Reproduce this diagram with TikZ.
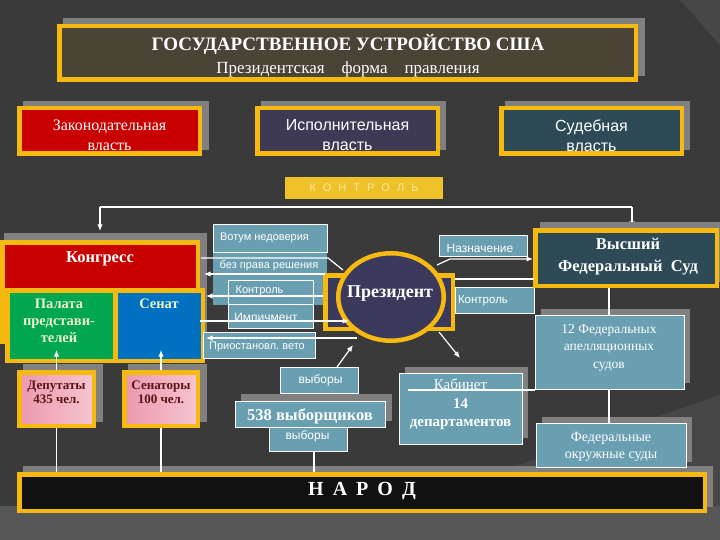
\documentclass[tikz,border=0pt]{standalone}
\usepackage{fontspec}
\setmainfont{Liberation Serif}
\setsansfont{Liberation Sans}
\usetikzlibrary{arrows.meta,shapes.geometric}
\definecolor{bgc}{HTML}{3A3A3A}
\definecolor{bgl}{HTML}{474747}
\definecolor{bgb}{HTML}{575757}
\definecolor{shd}{HTML}{808080}
\definecolor{yel}{HTML}{F5B90F}
\definecolor{titlef}{HTML}{4A4436}
\definecolor{redf}{HTML}{C80000}
\definecolor{exef}{HTML}{3E3A56}
\definecolor{judf}{HTML}{2E4A57}
\definecolor{tealf}{HTML}{6A9FB1}
\definecolor{greenf}{HTML}{00A650}
\definecolor{bluef}{HTML}{0070C0}
\definecolor{pinkA}{HTML}{F6C4D0}
\definecolor{pinkB}{HTML}{EC98AE}
\definecolor{pinktext}{HTML}{5A1515}
\definecolor{cream}{HTML}{EEF3C8}
\definecolor{ctrlf}{HTML}{EFC128}
\definecolor{ctrlt}{HTML}{F8EBA6}
\definecolor{presf}{HTML}{3C3A5C}
\definecolor{narodf}{HTML}{111111}
\newcommand{\myfs}[2]{\fontsize{#1}{#2}\selectfont}
\tikzset{
  ybox/.style={draw=yel, line width=4.5pt, inner sep=0pt},
  tbox/.style={draw=white, line width=0.8pt, fill=tealf, inner sep=0pt},
  lbl/.style={text=white, inner sep=0pt, align=center},
  tlbl/.style={text=white, inner sep=0pt, font=\sffamily\myfs{11}{13}},
  wl/.style={draw=white, line width=1.2pt},
  arr/.style={draw=white, line width=1.2pt, -{Latex[length=6.5pt,width=5.5pt]}},
}
\begin{document}
\begin{tikzpicture}[x=1pt,y=-1pt]
\useasboundingbox (0,0) rectangle (720,540);
\fill[bgc] (0,0) rectangle (720,540);
\fill[bgl] (680,0) -- (720,0) -- (720,45) -- cycle;
\fill[bgl] (470,482) -- (720,395) -- (720,540) -- (470,540) -- cycle;
\fill[bgb] (0,506) rectangle (720,540);

% People
\fill[shd] (23,466) rectangle (713,507);
\node[ybox, fill=narodf, minimum width=685.5pt, minimum height=36.5pt] (people) at (362,492.5) {};
\node[lbl, font=\bfseries\myfs{20}{24}] (peoplet) at (362,491.5) {Н\hspace{9pt}А\hspace{9pt}Р\hspace{9pt}О\hspace{9pt}Д};

% Title
\fill[shd] (63,18) rectangle (645,76);
\node[ybox, fill=titlef, minimum width=576.5pt, minimum height=53.5pt] (title) at (347.5,53) {};
\node[lbl, font=\bfseries\myfs{19}{22}] (t1) at (348,44) {ГОСУДАРСТВЕННОЕ УСТРОЙСТВО США};
\node[lbl, font=\myfs{17}{20}] (t2) at (348,69) {Президентская\quad форма\quad правления};

% Branches
\fill[shd] (23,101) rectangle (209,150);
\fill[shd] (261,101) rectangle (446,150);
\fill[shd] (505,101) rectangle (690,150);
\node[ybox, fill=redf, minimum width=180.5pt, minimum height=45.5pt] (leg) at (109.5,131) {};
\node[ybox, fill=exef, minimum width=180.5pt, minimum height=45.5pt] (exe) at (347.5,131) {};
\node[ybox, fill=judf, minimum width=180.5pt, minimum height=45.5pt] (jud) at (591.5,131) {};
\node[lbl, font=\myfs{16}{20}] (legt) at (109.5,135.5) {Законодательная\\власть};
\node[lbl, font=\sffamily\myfs{16}{20}] (exet) at (347.5,135.5) {Исполнительная\\власть};
\node[lbl, font=\sffamily\myfs{16}{20}] (judt) at (591.5,135.5) {Судебная\\власть};

% Control
\node[fill=ctrlf, minimum width=158pt, minimum height=22pt, inner sep=0pt, text=ctrlt, font=\sffamily\myfs{11}{13}] (ctrl) at (364,188) {К\hspace{7pt}О\hspace{7pt}Н\hspace{7pt}Т\hspace{7pt}Р\hspace{7pt}О\hspace{7pt}Л\hspace{7pt}Ь};
\coordinate (cl) at (100,207);
\coordinate (cr) at (632,207);
\coordinate (cla) at (100,231);
\coordinate (cra) at (632,228);
\draw[wl] (cl) -- (cr);

% Congress
\fill[shd] (4,233) rectangle (207,343);
\node[ybox, fill=redf, minimum width=195.5pt, minimum height=99.5pt] (cong) at (100,292) {};
\node[lbl, font=\bfseries\myfs{16.5}{20}] (congt) at (100,259) {Конгресс};
\node[ybox, fill=greenf, minimum width=107.5pt, minimum height=70.5pt] (house) at (61,325.5) {};
\node[ybox, fill=bluef, minimum width=87.5pt, minimum height=70.5pt] (senate) at (159,325.5) {};
\node[lbl, text=cream, font=\bfseries\myfs{14.5}{17}] (houset) at (59,320.5) {Палата\\представи-\\телей};
\node[lbl, text=cream, font=\bfseries\myfs{14.5}{17}] (senatet) at (159,304) {Сенат};
\draw[arr] (cl) -- (cla);
\draw[arr] (cr) -- (cra);

% Deputies / senators
\coordinate (depup) at (56.5,350);
\coordinate (senup) at (161,350);
\fill[shd] (23,364) rectangle (103,422);
\fill[shd] (128,364) rectangle (207,422);
\node[ybox, left color=pinkB, right color=pinkA, minimum width=74.5pt, minimum height=53.5pt] (dep) at (56.5,399) {};
\node[ybox, left color=pinkB, right color=pinkA, minimum width=73.5pt, minimum height=53.5pt] (sen) at (161,399) {};
\node[lbl, text=pinktext, font=\bfseries\myfs{13}{14}] (dept) at (56.5,392.5) {Депутаты\\435 чел.};
\node[lbl, text=pinktext, font=\bfseries\myfs{13}{14}] (sent) at (161,392.5) {Сенаторы\\100 чел.};
\draw[arr] (dep.north) -- (depup);
\draw[arr] (sen.north) -- (senup);
\draw[wl] (dep.south) -- (dep.south |- people.north);
\draw[wl] (sen.south) -- (sen.south |- people.north);

% Left teal labels
\node[fill=tealf, minimum width=114pt, minimum height=81pt, inner sep=0pt] (vbig) at (270,264.5) {};
\node[tbox, minimum width=114pt, minimum height=28pt] (vot) at (270,238) {};
\node[tlbl] (vott) at (264.5,238) {Вотум недоверия};
\node[tlbl] (bpr) at (269,266) {без права решения};
\node[tbox, minimum width=85pt, minimum height=24pt] (ctl) at (270.5,292) {};
\node[tlbl] (ctlt) at (259.5,290.5) {Контроль};
\node[tbox, minimum width=85pt, minimum height=24pt] (imp) at (270.5,316) {};
\node[tlbl, font=\sffamily\myfs{12}{14}] (impt) at (266,317.5) {Импичмент};
\node[tbox, minimum width=112pt, minimum height=26pt] (veto) at (259,345) {};
\node[tlbl] (vetot) at (257,347) {Приостановл.~вето};

% Right teal labels
\node[tbox, minimum width=88pt, minimum height=21pt] (nazn) at (483,245.5) {};
\node[tlbl, font=\sffamily\myfs{12}{14}] (naznt) at (480,248) {Назначение};
\node[tbox, minimum width=79pt, minimum height=26pt] (ctr) at (494.5,300) {};
\node[tlbl, font=\sffamily\myfs{11.5}{14}] (ctrt) at (483,301) {Контроль};

% Supreme court
\fill[shd] (540,222) rectangle (720,282);
\node[ybox, fill=judf, minimum width=181.5pt, minimum height=55.5pt] (sup) at (626,258) {};
\node[lbl, font=\bfseries\myfs{16.5}{22}] (supt) at (628,257) {Высший\\Федеральный\ \ Суд};

% Federal courts
\fill[shd] (541,309) rectangle (690,383);
\node[tbox, minimum width=149pt, minimum height=74pt] (fed12) at (609.5,352) {};
\node[lbl, font=\myfs{13.5}{17.5}] (fed12t) at (609,347.5) {12 Федеральных\\апелляционных\\судов};
\fill[shd] (542,417) rectangle (692,462);
\node[tbox, minimum width=150pt, minimum height=44pt] (fedd) at (611,445) {};
\node[lbl, font=\myfs{14}{17}] (feddt) at (611,446.5) {Федеральные\\окружные суды};
\coordinate (s1) at (609,288);
\coordinate (s2) at (609,315);
\coordinate (s3) at (609,389);
\coordinate (s4) at (609,423);
\draw[wl] (s1) -- (s2);
\draw[wl] (s3) -- (s4);

% Cabinet
\fill[shd] (405,367) rectangle (528,438);
\node[tbox, minimum width=123pt, minimum height=71pt] (kab) at (460.5,408.5) {};
\node[lbl, font=\myfs{15}{18.5}] (kabt) at (460.5,404.5) {Кабинет\\\textbf{14}\\\textbf{департаментов}};
\coordinate (kabl) at (408,390);
\draw[wl] (kabl) -- (kabl -| fed12.west);

% Electors
\node[tbox, minimum width=78pt, minimum height=24pt] (vyb2) at (308,439) {};
\node[tlbl, font=\sffamily\myfs{12}{14}] (vyb2t) at (307.5,436.5) {выборы};
\fill[shd] (241,394) rectangle (392,421);
\node[tbox, minimum width=150pt, minimum height=26pt] (el538) at (310,414) {};
\node[lbl, font=\bfseries\myfs{16.5}{20}] (el538t) at (310,416) {538 выборщиков};
\node[tbox, minimum width=78pt, minimum height=26pt] (vyb1) at (319,380) {};
\node[tlbl, font=\sffamily\myfs{12}{14}] (vyb1t) at (320.5,380) {выборы};
\coordinate (vybb) at (314,451);
\draw[wl] (vybb) -- (vybb |- people.north);

% President
\node[ybox, fill=presf, minimum width=127.5pt, minimum height=53.5pt] (psq) at (389,302) {};
\node[ellipse, draw=yel, line width=4.5pt, fill=presf, minimum width=105.5pt, minimum height=87.5pt, inner sep=0pt] (pres) at (391,297) {};
\node[lbl, font=\bfseries\myfs{18}{22}] (prest) at (390,294) {Президент};

% Connectors
\coordinate (a1s) at (201,258);
\coordinate (a1m) at (328,258);
\coordinate (a1e) at (343,270);
\draw[wl] (a1s) -- (a1m) -- (a1e);
\coordinate (a2s) at (325,274);
\coordinate (a2e) at (204,274);
\draw[arr] (a2s) -- (a2e);
\coordinate (a3s) at (323,296);
\coordinate (a3e) at (206,296);
\draw[arr] (a3s) -- (a3e);
\coordinate (a4s) at (200,321);
\coordinate (a4e) at (349,321);
\draw[arr] (a4s) -- (a4e);
\coordinate (a5s) at (357,338);
\coordinate (a5e) at (206,338);
\draw[arr] (a5s) -- (a5e);
\coordinate (b1s) at (437,265);
\coordinate (b1m) at (450,259);
\coordinate (b1e) at (533,259);
\draw[arr] (b1s) -- (b1m) -- (b1e);
\coordinate (b2s) at (455,279);
\coordinate (b2e) at (534,279);
\draw[wl] (b2s) -- (b2e);
\coordinate (b3s) at (439,332);
\coordinate (b3e) at (460,358);
\draw[arr] (b3s) -- (b3e);
\coordinate (b4s) at (337,367);
\coordinate (b4e) at (353,345);
\draw[arr] (b4s) -- (b4e);
\end{tikzpicture}
\end{document}
